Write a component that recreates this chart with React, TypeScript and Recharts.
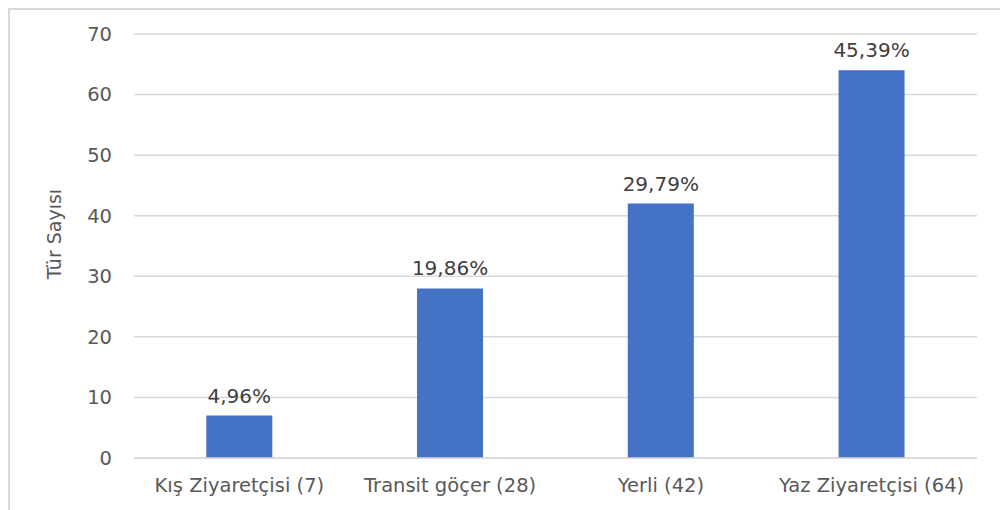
import React from 'react';
import { BarChart, Bar, XAxis, YAxis, CartesianGrid, LabelList } from 'recharts';

const categories = ['Kış Ziyaretçisi (7)', 'Transit göçer (28)', 'Yerli (42)', 'Yaz Ziyaretçisi (64)'];
const counts = [7, 28, 42, 64];
const percentLabels = ['4,96%', '19,86%', '29,79%', '45,39%'];
const yTicks = [0, 10, 20, 30, 40, 50, 60, 70];

const data = categories.map((name, i) => ({ name, value: counts[i], pct: percentLabels[i] }));

const font = '"DejaVu Sans", sans-serif';

// rotated axis title, a bit above the plot middle like the original
const YTitle = (props: any) => {
  const { viewBox } = props;
  const cx = viewBox.x + 54;
  const cy = viewBox.y + viewBox.height / 2 - 12;
  return (
    <text
      x={cx}
      y={cy}
      transform={`rotate(-90, ${cx}, ${cy})`}
      textAnchor="middle"
      dominantBaseline="central"
      fill="#595959"
      fontSize={19}
      fontFamily={font}
    >
      Tür Sayısı
    </text>
  );
};

const App: React.FC = () => {
  return (
    <div style={{ position: 'absolute', left: 0, top: 0, width: 1000, height: 510, background: '#fff' }}>
      <div
        style={{
          position: 'absolute',
          left: 8,
          top: 8,
          width: 992,
          height: 502,
          borderTop: '2px solid #d9d9d9',
          borderLeft: '2px solid #d9d9d9',
          boxSizing: 'border-box',
        }}
      />
      <BarChart
        width={1000}
        height={510}
        data={data}
        margin={{ top: 34, right: 23, left: 0, bottom: 0 }}
        barCategoryGap="34.3%"
        style={{ position: 'absolute', left: 0, top: 0, fontFamily: font }}
      >
        <CartesianGrid vertical={false} stroke="#d9d9d9" strokeWidth={1.5} />
        <XAxis
          dataKey="name"
          height={52}
          axisLine={{ stroke: '#d9d9d9', strokeWidth: 1.5 }}
          tickLine={false}
          tickSize={0}
          tickMargin={20}
          tick={{ fill: '#595959', fontSize: 19.5, fontFamily: font }}
          interval={0}
        />
        <YAxis
          width={134}
          domain={[0, 70]}
          ticks={yTicks}
          axisLine={false}
          tickLine={false}
          tickSize={0}
          tickMargin={22}
          tick={{ fill: '#595959', fontSize: 19.5, fontFamily: font }}
          label={<YTitle />}
        />
        <Bar dataKey="value" fill="#4472c4" isAnimationActive={false}>
          <LabelList dataKey="pct" position="top" offset={13} style={{ fill: '#404040', fontSize: 20, fontFamily: font }} />
        </Bar>
      </BarChart>
    </div>
  );
};

export default App;
